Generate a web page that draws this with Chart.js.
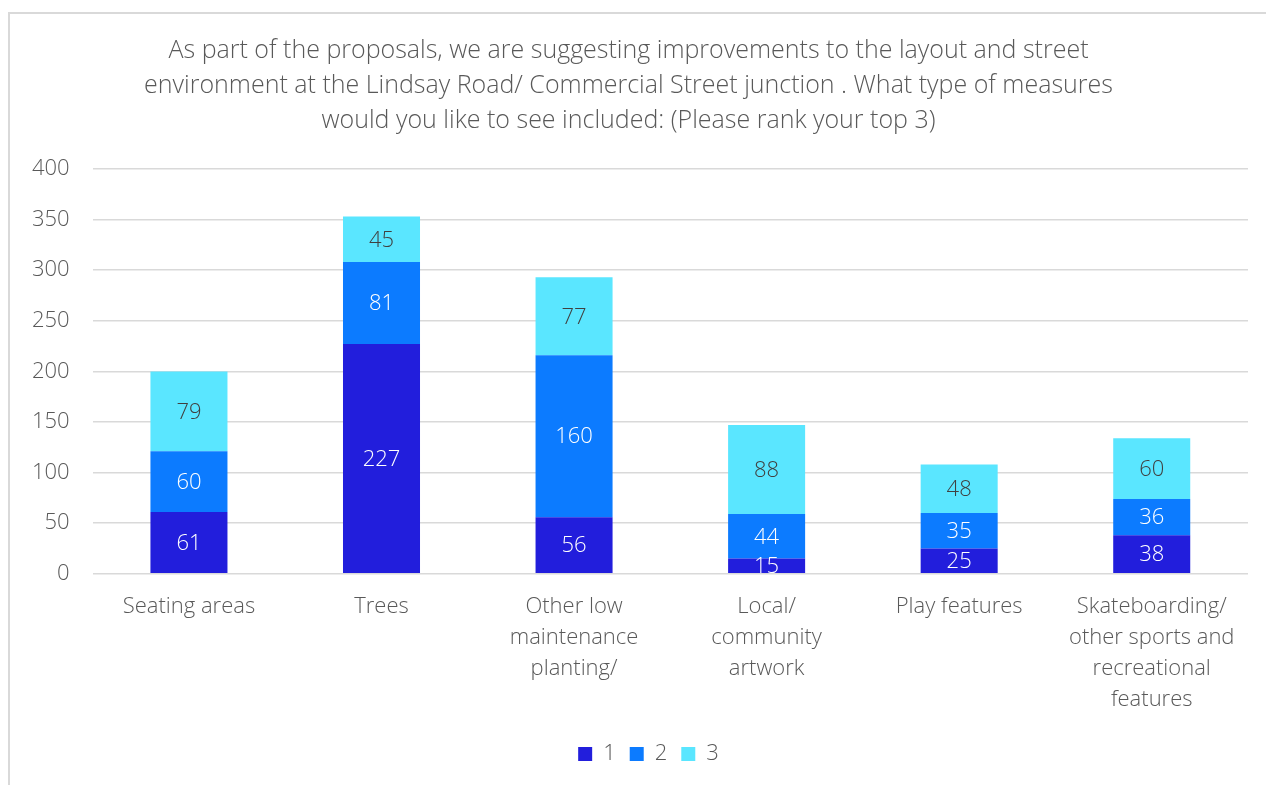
<!DOCTYPE html>
<html>
<head>
<meta charset="utf-8">
<script src="https://cdn.jsdelivr.net/npm/chart.js@4/dist/chart.umd.min.js"></script>
<style>
  html, body { margin: 0; padding: 0; background: #fff; overflow: hidden; }
  #frame { position: absolute; left: 8px; top: 12px; width: 1300px; height: 800px; border: 2px solid #d9d9d9; }
  #wrap { position: absolute; left: 0; top: 0; width: 1266px; height: 785px; }
</style>
</head>
<body>
<div id="frame"></div>
<div id="wrap"><canvas id="chart"></canvas></div>
<script>
// categories and rank counts
const categories = [
  "Seating areas",
  "Trees",
  ["Other low", "maintenance", "planting/"],
  ["Local/", "community", "artwork"],
  "Play features",
  ["Skateboarding/", "other sports and", "recreational", "features"]
];
const rank1 = [61, 227, 56, 15, 25, 38];
const rank2 = [60, 81, 160, 44, 35, 36];
const rank3 = [79, 45, 77, 88, 48, 60];
const seriesNames = ["1", "2", "3"];
const colors = ["#221edc", "#0c7bff", "#5ae6ff"];
const labelColors = ["#ffffff", "#ffffff", "#404040"];

const titleText = [
  "As part of the proposals, we are suggesting improvements to the layout and street",
  "environment at the Lindsay Road/ Commercial Street junction . What type of measures",
  "would you like to see included: (Please rank your top 3)"
];

const FONT = "'Open Sans', 'DejaVu Sans', sans-serif";
const grey = "#595959";

// simple value labels drawn in the middle of each segment
const segmentLabels = {
  id: "segmentLabels",
  afterDatasetsDraw(chart) {
    const ctx = chart.ctx;
    ctx.save();
    ctx.font = "300 22px " + FONT;
    ctx.textAlign = "center";
    ctx.textBaseline = "middle";
    chart.data.datasets.forEach((ds, i) => {
      const meta = chart.getDatasetMeta(i);
      meta.data.forEach((bar, j) => {
        const mid = (bar.y + bar.base) / 2;
        ctx.fillStyle = labelColors[i];
        ctx.fillText(String(ds.data[j]), bar.x, mid + 1);
      });
    });
    ctx.restore();
  }
};

// nudge the legend a little to the right, like the original
const legendShift = {
  id: "legendShift",
  afterLayout(chart) {
    if (chart.legend) {
      chart.legend.left += 20;
      chart.legend.right += 20;
    }
  }
};

const data = {
  labels: categories,
  datasets: [rank1, rank2, rank3].map((vals, i) => ({
    label: seriesNames[i],
    data: vals,
    backgroundColor: colors[i],
    borderWidth: 0,
    barPercentage: 0.4,
    categoryPercentage: 1.0
  }))
};

new Chart(document.getElementById("chart"), {
  type: "bar",
  data: data,
  options: {
    responsive: true,
    maintainAspectRatio: false,
    animation: false,
    layout: { padding: { left: 9, right: 18, top: 33, bottom: 10 } },
    scales: {
      x: {
        stacked: true,
        grid: { display: false },
        border: { display: false },
        afterFit(scale) { scale.height += 4; }, // a bit more room above the legend
        ticks: {
          color: grey,
          font: { family: FONT, size: 22, weight: 300, lineHeight: 1.4 },
          maxRotation: 0,
          autoSkip: false,
          padding: 10
        }
      },
      y: {
        stacked: true,
        min: 0,
        max: 400,
        grid: { color: "#d9d9d9", lineWidth: 1.5, drawTicks: false },
        border: { display: false },
        ticks: {
          stepSize: 50,
          color: grey,
          font: { family: FONT, size: 22, weight: 300 },
          padding: 23
        }
      }
    },
    plugins: {
      title: {
        display: true,
        text: titleText,
        color: grey,
        font: { family: FONT, size: 25, weight: 300, lineHeight: 1.4 },
        padding: { top: 0, bottom: 31 }
      },
      legend: {
        position: "bottom",
        labels: {
          color: grey,
          boxWidth: 14,
          boxHeight: 14,
          padding: 14,
          font: { family: FONT, size: 22, weight: 300 }
        }
      },
      tooltip: { enabled: false }
    }
  },
  plugins: [segmentLabels, legendShift]
});
</script>
</body>
</html>
